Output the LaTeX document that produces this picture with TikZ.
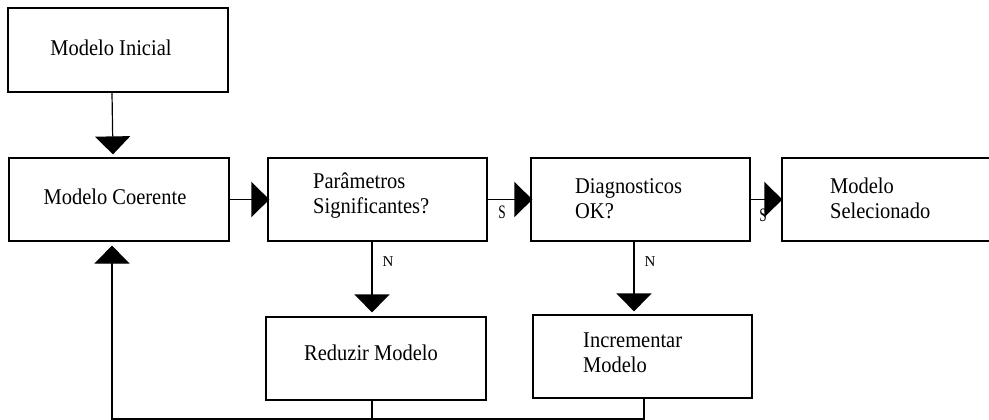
\documentclass[tikz,border=0pt]{standalone}
\usepackage{fontspec}
\setmainfont{Liberation Serif}
\newfontfamily\tallserif[FakeStretch=0.91]{Liberation Serif}
\usetikzlibrary{arrows.meta}
\begin{document}
\begin{tikzpicture}[x=1pt,y=-1pt,
  box/.style={draw=black, line width=1.2pt, fill=white, inner sep=0pt},
  txt/.style={font=\tallserif\fontsize{22.5}{25}\selectfont, align=left, inner sep=0pt},
  lbl/.style={font=\fontsize{15}{15}\selectfont, inner sep=0pt},
  slbl/.style={font=\fontsize{19}{19}\selectfont, inner sep=0pt},
  conn/.style={draw=black, line width=1.2pt},
  arr/.style={conn, -{Triangle[width=35pt,length=18pt]}}]
\useasboundingbox (0,0) rectangle (989,420);
\clip (0,0) rectangle (989,420);
\fill[white] (0,0) rectangle (989,420);
% boxes
\node[box, minimum width=220pt, minimum height=84pt] (ini) at (118,50) {};
\node[box, minimum width=220pt, minimum height=83pt] (coe) at (119,199.5) {};
\node[box, minimum width=219pt, minimum height=83pt] (par) at (377.5,199.5) {};
\node[box, minimum width=219pt, minimum height=83pt] (dia) at (640.5,199.5) {};
\node[box, minimum width=220pt, minimum height=83pt] (sel) at (892,199.5) {};
\node[box, minimum width=220pt, minimum height=83pt] (red) at (376,358.5) {};
\node[box, minimum width=219pt, minimum height=83pt] (inc) at (642.5,356.5) {};
% texts
\node[txt] (tini) at (111,48) {Modelo Inicial};
\node[txt] (tcoe) at (115,197) {Modelo Coerente};
\node[txt, anchor=west] (tpar) at (313,195.5) {Parâmetros\\Significantes?};
\node[txt, anchor=west] (tdia) at (575,199) {Diagnosticos\\OK?};
\node[txt, anchor=west] (tsel) at (830,198.5) {Modelo\\Selecionado};
\node[txt] (tred) at (371,353) {Reduzir Modelo};
\node[txt, anchor=west] (tinc) at (583,352.5) {Incrementar\\Modelo};
% connectors
\draw[arr, shorten >=3pt] ([xshift=-6pt]ini.south) -- ([xshift=-6pt]coe.north);
\draw[arr, shorten >=-2pt] (coe.east) -- (par.west);
\draw[arr, shorten >=-2pt] (par.east) -- (dia.west);
\draw[arr, shorten >=-1pt] (dia.east) -- (sel.west);
\draw[arr, shorten >=4pt] ([xshift=-5.5pt]par.south) -- ([xshift=-5.5pt]par.south |- red.north);
\draw[arr, shorten >=3pt] ([xshift=-6.5pt]dia.south) -- ([xshift=-6.5pt]dia.south |- inc.north);
\coordinate (fbl) at (112,419);
\coordinate (fbr) at (372,419);
\coordinate (fbi) at (644,419);
\draw[conn] ([xshift=-4pt]red.south) -- (fbr);
\draw[arr, shorten >=4pt] ([xshift=1.5pt]inc.south) -- (fbi) -- (fbl) -- ([xshift=-7pt]coe.south);
% labels
\node[slbl] (s1) at (502,212) {\scalebox{0.7}[1]{S}};
\node[slbl] (s2) at (763,215) {\scalebox{0.7}[1]{S}};
\node[lbl] (n1) at (388,262) {N};
\node[lbl] (n2) at (650,262) {N};
\end{tikzpicture}
\end{document}
